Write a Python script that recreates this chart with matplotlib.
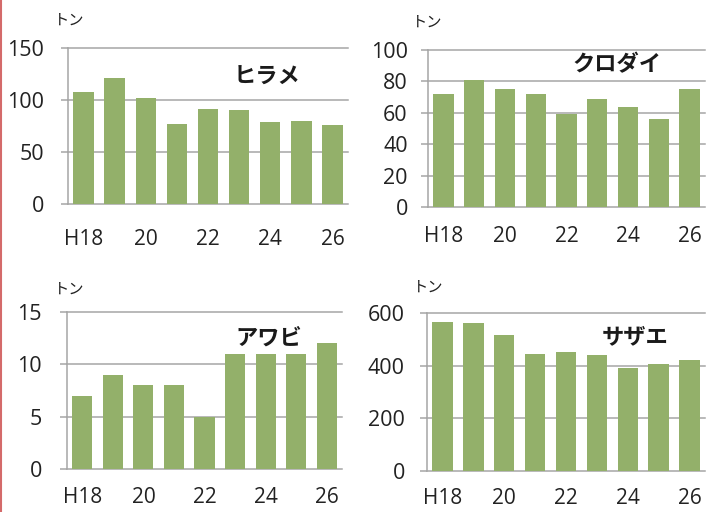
import matplotlib
matplotlib.use("Agg")
import matplotlib.pyplot as plt
from matplotlib.lines import Line2D

years = ["H18", "", "20", "", "22", "", "24", "", "26"]

hirame = [108, 121, 102, 77, 91, 90, 79, 80, 76]
kurodai = [72, 81, 75, 72, 59, 69, 64, 56, 75]
awabi = [7, 9, 8, 8, 5, 11, 11, 11, 12]
sazae = [565, 563, 518, 443, 453, 440, 393, 407, 422]

names = ["ヒラメ", "クロダイ", "アワビ", "サザエ"]
y_ticks = [
    [0, 50, 100, 150],
    [0, 20, 40, 60, 80, 100],
    [0, 5, 10, 15],
    [0, 200, 400, 600],
]

W, H = 706, 512
BAR_COLOR = "#93b06a"
GRID_COLOR = "#a6a6a6"
JP = ["Noto Sans CJK JP", "DejaVu Sans"]

plt.rcParams["font.family"] = ["Open Sans", "Noto Sans CJK JP", "DejaVu Sans"]


def fx(px):
    return px / W


def fy(py):
    return 1 - py / H


# pixel boxes: left, top, right, bottom
boxes = [
    (68, 48, 348, 204),
    (428, 50, 705, 207),
    (67, 312, 342, 469),
    (427, 313, 705, 471),
]
title_pos = [(267, 77), (617, 65), (269, 338), (635, 337)]
unit_pos = [(69, 20), (427, 22), (69, 289), (428, 287)]
xpads = [18, 14, 13, 12]
ypads = [12, 9.5, 13, 11]

fig = plt.figure(figsize=(W / 100, H / 100), dpi=100)

for i, values in enumerate([hirame, kurodai, awabi, sazae]):
    l, t, r, b = boxes[i]
    ax = fig.add_axes([fx(l), fy(b), (r - l) / W, (b - t) / H])
    x = range(len(values))
    ax.bar(x, values, width=0.66, color=BAR_COLOR, zorder=2)
    ax.set_xlim(-0.5, len(values) - 0.5)
    ax.set_ylim(y_ticks[i][0], y_ticks[i][-1])
    ax.set_yticks(y_ticks[i])
    ax.set_xticks(list(x))
    ax.set_xticklabels(years)
    ax.tick_params(axis="x", length=0, pad=xpads[i], labelsize=15, colors="#222222")
    ax.tick_params(axis="y", length=5, width=1.1, color=GRID_COLOR, pad=ypads[i],
                   labelsize=15.5, labelcolor="#222222")
    ax.grid(axis="y", color=GRID_COLOR, linewidth=1.1, zorder=1)
    for gl in ax.get_ygridlines():
        gl.set_clip_on(False)
    ax.set_axisbelow(True)
    for side in ["top", "right", "bottom"]:
        ax.spines[side].set_visible(False)
    ax.spines["left"].set_color(GRID_COLOR)
    ax.spines["left"].set_linewidth(1.1)

    tx, ty = title_pos[i]
    fig.text(fx(tx), fy(ty), names[i], family=JP, fontsize=16, fontweight="bold",
             ha="center", va="center", color="#1a1a1a")
    ux, uy = unit_pos[i]
    fig.text(fx(ux), fy(uy), "トン", family=JP, fontsize=11,
             ha="center", va="center", color="#222222")

# red frame edge on the left
fig.add_artist(Line2D([fx(1), fx(1)], [0, 1], color="#d46a6a", linewidth=1.5,
                      transform=fig.transFigure))

fig.savefig("out.png", dpi=100)
